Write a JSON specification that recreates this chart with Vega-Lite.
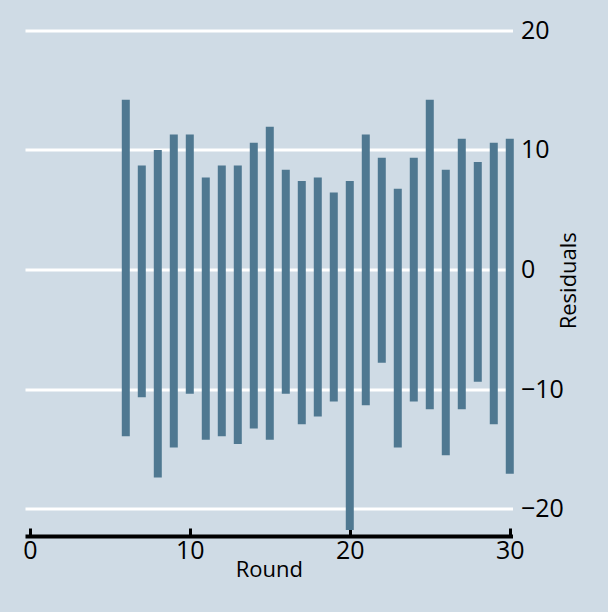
{
  "$schema": "https://vega.github.io/schema/vega-lite/v6.json",
  "width": 487.5,
  "height": 511.5,
  "autosize": {"type": "none"},
  "padding": {"left": 25, "top": 24.5, "right": 95.5, "bottom": 76},
  "background": "#cfdbe5",
  "config": {"view": {"stroke": null}, "font": "Open Sans"},
  "data": {
    "values": [
      {"round": 6, "lo": -13.95, "hi": 14.2},
      {"round": 7, "lo": -10.7, "hi": 8.7},
      {"round": 8, "lo": -17.4, "hi": 10.0},
      {"round": 9, "lo": -14.9, "hi": 11.3},
      {"round": 10, "lo": -10.4, "hi": 11.3},
      {"round": 11, "lo": -14.25, "hi": 7.7},
      {"round": 12, "lo": -13.95, "hi": 8.7},
      {"round": 13, "lo": -14.6, "hi": 8.7},
      {"round": 14, "lo": -13.3, "hi": 10.6},
      {"round": 15, "lo": -14.25, "hi": 11.95},
      {"round": 16, "lo": -10.4, "hi": 8.35},
      {"round": 17, "lo": -12.95, "hi": 7.4},
      {"round": 18, "lo": -12.3, "hi": 7.7},
      {"round": 19, "lo": -11.05, "hi": 6.45},
      {"round": 20, "lo": -21.8, "hi": 7.4},
      {"round": 21, "lo": -11.35, "hi": 11.3},
      {"round": 22, "lo": -7.8, "hi": 9.35},
      {"round": 23, "lo": -14.9, "hi": 6.75},
      {"round": 24, "lo": -11.05, "hi": 9.35},
      {"round": 25, "lo": -11.7, "hi": 14.2},
      {"round": 26, "lo": -15.55, "hi": 8.35},
      {"round": 27, "lo": -11.7, "hi": 10.95},
      {"round": 28, "lo": -9.4, "hi": 9.0},
      {"round": 29, "lo": -12.95, "hi": 10.6},
      {"round": 30, "lo": -17.1, "hi": 10.95}
    ]
  },
  "mark": {"type": "rule", "strokeWidth": 8, "strokeCap": "butt", "color": "#4f7891"},
  "encoding": {
    "x": {
      "field": "round",
      "type": "quantitative",
      "scale": {"domain": [-0.3, 30.17], "nice": false, "zero": false},
      "axis": {
        "title": "Round",
        "values": [0, 10, 20, 30],
        "grid": false,
        "domainColor": "black",
        "domainWidth": 4,
        "tickColor": "black",
        "tickWidth": 3,
        "tickSize": -8,
        "labelFontSize": 25,
        "labelColor": "black",
        "labelPadding": 10,
        "titleFontSize": 22,
        "titleFontWeight": "normal",
        "titleColor": "black",
        "titlePadding": -4
      }
    },
    "y": {
      "field": "lo",
      "type": "quantitative",
      "scale": {"domain": [-22.3, 20.5], "nice": false, "zero": false},
      "axis": {
        "orient": "right",
        "title": "Residuals",
        "values": [-20, -10, 0, 10, 20],
        "grid": true,
        "gridColor": "white",
        "gridWidth": 3,
        "gridOpacity": 1,
        "domain": false,
        "ticks": false,
        "labelFontSize": 25,
        "labelColor": "black",
        "labelPadding": 8,
        "labelAlign": "left",
        "titleFontSize": 22,
        "titleFontWeight": "normal",
        "titleColor": "black",
        "titleAngle": 270,
        "titlePadding": 17
      }
    },
    "y2": {"field": "hi"}
  }
}
